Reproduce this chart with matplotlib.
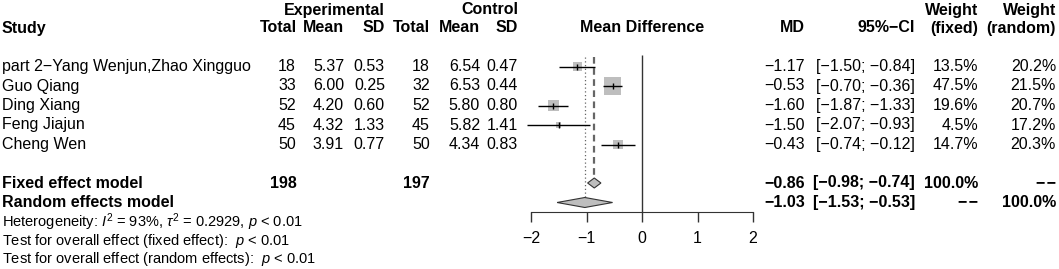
import numpy as np
import matplotlib
matplotlib.use("Agg")
import matplotlib.pyplot as plt

plt.rcParams['font.family'] = ['Liberation Sans', 'DejaVu Sans']
plt.rcParams['mathtext.fontset'] = 'custom'
plt.rcParams['mathtext.rm'] = 'Liberation Sans'
plt.rcParams['mathtext.it'] = 'Liberation Sans:italic'

# study data
studies = ["part 2\u2212Yang Wenjun,Zhao Xingguo", "Guo Qiang", "Ding Xiang",
           "Feng Jiajun", "Cheng Wen"]
exp_total = [18, 33, 52, 45, 50]
exp_mean = [5.37, 6.00, 4.20, 4.32, 3.91]
exp_sd = [0.53, 0.25, 0.60, 1.33, 0.77]
ctl_total = [18, 32, 52, 45, 50]
ctl_mean = [6.54, 6.53, 5.80, 5.82, 4.34]
ctl_sd = [0.47, 0.44, 0.80, 1.41, 0.83]
md = [-1.17, -0.53, -1.60, -1.50, -0.43]
ci_lo = [-1.50, -0.70, -1.87, -2.07, -0.74]
ci_hi = [-0.84, -0.36, -1.33, -0.93, -0.12]
w_fixed = [13.5, 47.5, 19.6, 4.5, 14.7]
w_random = [20.2, 21.5, 20.7, 17.2, 20.3]

# pooled results
fixed_md, fixed_lo, fixed_hi = -0.86, -0.98, -0.74
random_md, random_lo, random_hi = -1.03, -1.53, -0.53
exp_n_total, ctl_n_total = 198, 197
x_ticks = [-2, -1, 0, 1, 2]


def num(v, fmt="{:.2f}"):
    return fmt.format(v).replace("-", "\u2212")


def ci(lo, hi):
    return "[" + num(lo) + "; " + num(hi) + "]"


W, H = 1059, 269
fig = plt.figure(figsize=(W / 100, H / 100), dpi=100)

# text layer in pixel coordinates
ax = fig.add_axes([0, 0, 1, 1])
ax.set_xlim(0, W)
ax.set_ylim(H, 0)
ax.axis("off")

# forest panel: x in MD units, y shares the pixel rows
ax_top, ax_bot = 55, 212
fax = fig.add_axes([531 / W, (H - ax_bot) / H, 222 / W, (ax_bot - ax_top) / H])
fax.set_xlim(-2, 2)
fax.set_ylim(ax_bot, ax_top)
fax.patch.set_visible(False)
for s in ["top", "left", "right"]:
    fax.spines[s].set_visible(False)
fax.spines["bottom"].set_color("#333333")
fax.set_yticks([])
fax.set_xticks(x_ticks)
fax.set_xticklabels([num(t, "{:d}") for t in x_ticks])
fax.tick_params(axis="x", direction="out", length=7, width=1, pad=7,
                labelsize=11.5, colors="#333333", labelcolor="black")

fs = 11.5
row_y = [66.5, 86, 105.5, 125, 144.5]
fixed_y, random_y = 183, 202.5
hdr1, hdr2 = 10, 28

# headers
hb = dict(fontsize=fs, fontweight="bold", va="center")
ax.text(385, hdr1, "Experimental", ha="right", **hb)
ax.text(518, hdr1, "Control", ha="right", **hb)
ax.text(978, hdr1, "Weight", ha="right", **hb)
ax.text(1056, hdr1, "Weight", ha="right", **hb)
ax.text(2, hdr2, "Study", ha="left", **hb)
for x, lab in [(297, "Total"), (344, "Mean"), (385, "SD"), (430, "Total"),
               (480, "Mean"), (518, "SD"), (805, "MD"), (915, "95%\u2212CI"),
               (978, "(fixed)"), (1056, "(random)")]:
    ax.text(x, hdr2, lab, ha="right", **hb)
ax.text(642, hdr2, "Mean Difference", ha="center", **hb)

# study rows
nt = dict(fontsize=fs, va="center")
for i, y in enumerate(row_y):
    ax.text(2, y, studies[i], ha="left", **nt)
    ax.text(296, y, str(exp_total[i]), ha="right", **nt)
    ax.text(344, y, num(exp_mean[i]), ha="right", **nt)
    ax.text(385, y, num(exp_sd[i]), ha="right", **nt)
    ax.text(430, y, str(ctl_total[i]), ha="right", **nt)
    ax.text(480, y, num(ctl_mean[i]), ha="right", **nt)
    ax.text(518, y, num(ctl_sd[i]), ha="right", **nt)
    ax.text(805, y, num(md[i]), ha="right", **nt)
    ax.text(915, y, ci(ci_lo[i], ci_hi[i]), ha="right", **nt)
    ax.text(978, y, num(w_fixed[i], "{:.1f}") + "%", ha="right", **nt)
    ax.text(1056, y, num(w_random[i], "{:.1f}") + "%", ha="right", **nt)

# pooled rows
dash = "\u2212\u200a\u2212"
bt = dict(fontsize=fs, fontweight="bold", va="center")
ax.text(2, fixed_y, "Fixed effect model", ha="left", **bt)
ax.text(297, fixed_y, str(exp_n_total), ha="right", **bt)
ax.text(430, fixed_y, str(ctl_n_total), ha="right", **bt)
ax.text(805, fixed_y, num(fixed_md), ha="right", **bt)
ax.text(915, fixed_y, ci(fixed_lo, fixed_hi), ha="right", **bt)
ax.text(978, fixed_y, "100.0%", ha="right", **bt)
ax.text(1056, fixed_y, dash, ha="right", **bt)
ax.text(2, random_y, "Random effects model", ha="left", **bt)
ax.text(805, random_y, num(random_md), ha="right", **bt)
ax.text(915, random_y, ci(random_lo, random_hi), ha="right", **bt)
ax.text(978, random_y, dash, ha="right", **bt)
ax.text(1056, random_y, "100.0%", ha="right", **bt)

# bottom notes
sf = 10.5
ax.text(2, 222, r"Heterogeneity: $I^2$ = 93%, $\tau^2$ = 0.2929, $p$ < 0.01",
        fontsize=sf, va="center")
ax.text(2, 240.5, r"Test for overall effect (fixed effect):  $p$ < 0.01",
        fontsize=sf, va="center")
ax.text(2, 259.5, r"Test for overall effect (random effects):  $p$ < 0.01",
        fontsize=sf, va="center")

# reference lines
fax.vlines(0, ax_top, ax_bot, color="#333333", lw=1, clip_on=False)
fax.vlines(fixed_md, ax_top + 2, fixed_y - 5, color="#666666", lw=1.6,
           linestyles=(0, (3, 2)), clip_on=False)
fax.vlines(random_md, ax_top + 2, random_y - 5, color="#666666", lw=0.9,
           linestyles=(0, (1, 2)), clip_on=False)

# study estimates
sides = 2.47 * np.sqrt(w_fixed) * 0.72
fax.scatter(md, row_y, s=sides ** 2, marker="s", color="#bebebe",
            edgecolors="none", zorder=2, clip_on=False)
fax.hlines(row_y, ci_lo, ci_hi, color="black", lw=1, zorder=3, clip_on=False)
fax.vlines(md, np.array(row_y) - 3, np.array(row_y) + 3, color="black",
           lw=1, zorder=3, clip_on=False)

# diamonds
for m, lo, hi, y in [(fixed_md, fixed_lo, fixed_hi, fixed_y),
                     (random_md, random_lo, random_hi, random_y)]:
    fax.fill([lo, m, hi, m], [y, y - 5, y, y + 5], facecolor="#bebebe",
             edgecolor="#333333", lw=0.8, zorder=3, clip_on=False)

fig.savefig("out.png", dpi=100)
